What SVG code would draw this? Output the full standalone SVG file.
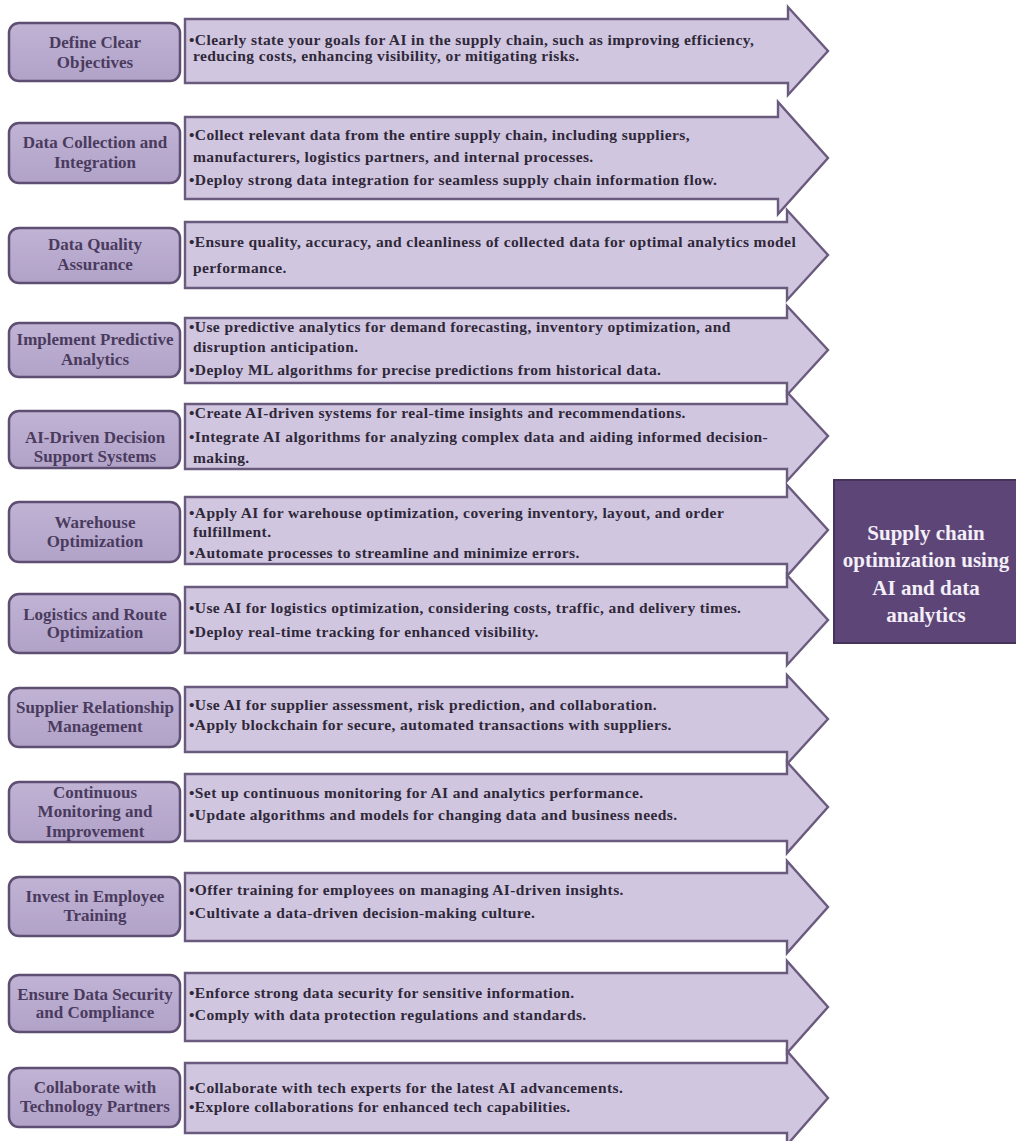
<svg xmlns="http://www.w3.org/2000/svg" width="1016" height="1141" viewBox="0 0 1016 1141">
  <style>
    .step rect { fill: url(#stepFill); stroke: #5e4e72; stroke-width: 2.5; }
    .step text { font-family: "Liberation Serif", "Times New Roman", serif; font-weight: bold; font-size: 17px; fill: #4a3b5e; text-anchor: middle; }
    .arrow path { fill: #d0c6e0; stroke: #6a5b7e; stroke-width: 2.4; stroke-linejoin: miter; }
    .arrow text { font-family: "Liberation Serif", "Times New Roman", serif; font-weight: bold; font-size: 15.5px; letter-spacing: 0.4px; fill: #2f2839; }
    .hub rect { fill: #5d4677; stroke: #45335a; stroke-width: 2; }
    .hub text { font-family: "Liberation Serif", "Times New Roman", serif; font-weight: bold; font-size: 21px; fill: #f3eef8; text-anchor: middle; }
  </style>
  <defs>
    <linearGradient id="stepFill" x1="0" y1="0" x2="0" y2="1">
      <stop offset="0" stop-color="#c0b3d4"/>
      <stop offset="1" stop-color="#b1a2c8"/>
    </linearGradient>
  </defs>
  <rect width="1016" height="1141" fill="#ffffff"/>

  <!-- arrow bands carrying the detail bullets -->
  <g id="connectors">
    <g class="arrow" id="arrow-1">
      <path d="M185,19 H788 V7 L828,51 L788,95 V83 H185 Z"/>
      <text x="189" y="45">•Clearly state your goals for AI in the supply chain, such as improving efficiency,</text>
      <text x="193" y="61">reducing costs, enhancing visibility, or mitigating risks.</text>
    </g>
    <g class="arrow" id="arrow-2">
      <path d="M185,117 H778 V102 L828,158 L778,214 V199 H185 Z"/>
      <text x="189" y="140">•Collect relevant data from the entire supply chain, including suppliers,</text>
      <text x="193" y="162">manufacturers, logistics partners, and internal processes.</text>
      <text x="189" y="185">•Deploy strong data integration for seamless supply chain information flow.</text>
    </g>
    <g class="arrow" id="arrow-3">
      <path d="M185,222 H787 V210 L828,255 L787,300 V288 H185 Z"/>
      <text x="189" y="247">•Ensure quality, accuracy, and cleanliness of collected data for optimal analytics model</text>
      <text x="193" y="273">performance.</text>
    </g>
    <g class="arrow" id="arrow-4">
      <path d="M185,318 H787 V306 L828,350 L787,395 V383 H185 Z"/>
      <text x="189" y="332">•Use predictive analytics for demand forecasting, inventory optimization, and</text>
      <text x="193" y="352">disruption anticipation.</text>
      <text x="189" y="375">•Deploy ML  algorithms for precise predictions from historical data.</text>
    </g>
    <g class="arrow" id="arrow-5">
      <path d="M185,404 H787 V392 L828,436 L787,481 V469 H185 Z"/>
      <text x="189" y="418">•Create AI-driven systems for real-time insights and recommendations.</text>
      <text x="189" y="442">•Integrate AI algorithms for analyzing complex data and aiding informed decision-</text>
      <text x="193" y="463">making.</text>
    </g>
    <g class="arrow" id="arrow-6">
      <path d="M185,497 H787 V485 L828,530 L787,576 V564 H185 Z"/>
      <text x="189" y="518">•Apply AI  for warehouse optimization, covering inventory, layout, and order</text>
      <text x="193" y="537">fulfillment.</text>
      <text x="189" y="558">•Automate processes to streamline and minimize errors.</text>
    </g>
    <g class="arrow" id="arrow-7">
      <path d="M185,587 H787 V575 L828,620 L787,665 V653 H185 Z"/>
      <text x="189" y="613">•Use AI for logistics optimization, considering costs, traffic, and delivery times.</text>
      <text x="189" y="637">•Deploy real-time tracking for enhanced visibility.</text>
    </g>
    <g class="arrow" id="arrow-8">
      <path d="M185,687 H787 V675 L828,719 L787,764 V752 H185 Z"/>
      <text x="189" y="710">•Use AI for supplier assessment, risk prediction, and collaboration.</text>
      <text x="189" y="730">•Apply blockchain for secure, automated transactions with suppliers.</text>
    </g>
    <g class="arrow" id="arrow-9">
      <path d="M185,774 H787 V762 L828,807 L787,853 V841 H185 Z"/>
      <text x="189" y="798">•Set up continuous monitoring for AI and analytics performance.</text>
      <text x="189" y="820">•Update algorithms and models for changing data and business needs.</text>
    </g>
    <g class="arrow" id="arrow-10">
      <path d="M185,873 H787 V861 L828,907 L787,953 V941 H185 Z"/>
      <text x="189" y="895">•Offer training for employees on managing AI-driven insights.</text>
      <text x="189" y="918">•Cultivate a data-driven decision-making culture.</text>
    </g>
    <g class="arrow" id="arrow-11">
      <path d="M185,973 H787 V961 L828,1007 L787,1053 V1041 H185 Z"/>
      <text x="189" y="998">•Enforce strong data security for sensitive information.</text>
      <text x="189" y="1020">•Comply with data protection regulations and standards.</text>
    </g>
    <g class="arrow" id="arrow-12">
      <path d="M185,1063 H787 V1051 L828,1098 L787,1145 V1133 H185 Z"/>
      <text x="189" y="1093">•Collaborate with tech experts for the latest AI advancements.</text>
      <text x="189" y="1112">•Explore collaborations for enhanced tech capabilities.</text>
    </g>
  </g>

  <!-- step labels -->
  <g class="step" id="step-1"><rect x="9" y="23" width="171" height="58" rx="10"/>
    <text x="95" y="48">Define Clear</text><text x="95" y="68">Objectives</text></g>
  <g class="step" id="step-2"><rect x="9" y="123" width="171" height="60" rx="10"/>
    <text x="95" y="148">Data Collection and</text><text x="95" y="168">Integration</text></g>
  <g class="step" id="step-3"><rect x="9" y="228" width="171" height="55" rx="10"/>
    <text x="95" y="250">Data Quality</text><text x="95" y="270">Assurance</text></g>
  <g class="step" id="step-4"><rect x="9" y="323" width="171" height="54" rx="10"/>
    <text x="95" y="345">Implement Predictive</text><text x="95" y="365">Analytics</text></g>
  <g class="step" id="step-5"><rect x="9" y="411" width="171" height="57" rx="10"/>
    <text x="95" y="443">AI-Driven Decision</text><text x="95" y="462">Support Systems</text></g>
  <g class="step" id="step-6"><rect x="9" y="502" width="171" height="60" rx="10"/>
    <text x="95" y="528">Warehouse</text><text x="95" y="547">Optimization</text></g>
  <g class="step" id="step-7"><rect x="9" y="594" width="171" height="59" rx="10"/>
    <text x="95" y="620">Logistics and Route</text><text x="95" y="638">Optimization</text></g>
  <g class="step" id="step-8"><rect x="9" y="688" width="171" height="59" rx="10"/>
    <text x="95" y="713">Supplier Relationship</text><text x="95" y="732">Management</text></g>
  <g class="step" id="step-9"><rect x="9" y="782" width="171" height="60" rx="10"/>
    <text x="95" y="798">Continuous</text><text x="95" y="817">Monitoring and</text><text x="95" y="837">Improvement</text></g>
  <g class="step" id="step-10"><rect x="9" y="877" width="171" height="59" rx="10"/>
    <text x="95" y="902">Invest in Employee</text><text x="95" y="921">Training</text></g>
  <g class="step" id="step-11"><rect x="9" y="975" width="171" height="57" rx="10"/>
    <text x="95" y="1000">Ensure Data Security</text><text x="95" y="1018">and Compliance</text></g>
  <g class="step" id="step-12"><rect x="9" y="1068" width="171" height="59" rx="10"/>
    <text x="95" y="1093">Collaborate with</text><text x="95" y="1112">Technology Partners</text></g>

  <!-- central goal box -->
  <g class="hub" id="goal">
    <rect x="834" y="480" width="184" height="163"/>
    <text x="926" y="540">Supply chain</text>
    <text x="926" y="567">optimization using</text>
    <text x="926" y="595">AI and data</text>
    <text x="926" y="622">analytics</text>
  </g>
</svg>
